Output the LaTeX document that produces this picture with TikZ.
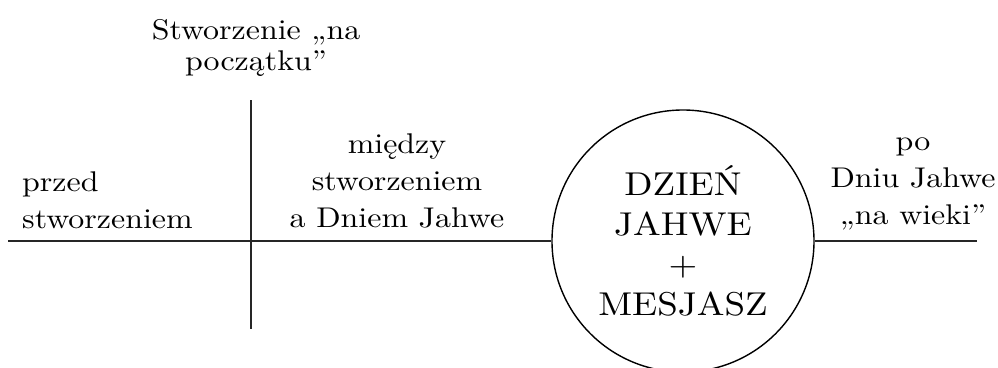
\documentclass[tikz,border=0pt]{standalone}
\usepackage{fontspec}
\setmainfont{lmroman10-regular.otf}[FakeStretch=1.12]
\usepackage{tikz}

\tikzset{
	period/.style={inner sep=0pt, font=\fontsize{28.5bp}{37bp}\selectfont},
	axis/.style={line width=1.8bp, draw=black!85},
}

\begin{document}
\begin{tikzpicture}[x=1bp, y=1bp]
			\useasboundingbox (0,0) rectangle (998,367);
			\node[period, align=left, anchor=west] at (22,167) (before){przed\\stworzeniem};
			\node[period, align=center, font=\fontsize{28.5bp}{31bp}\selectfont] at (256,319.5) (creation){Stworzenie „na\\początku”};
			\node[period, align=center] at (397,186.5) (between){między\\stworzeniem\\a Dniem Jahwe};
			\node[period, align=center] at (913,183.5) (after){po\\Dniu Jahwe\\„na wieki”};
			\node[circle, draw, line width=1.4bp, minimum size=262bp, inner sep=0pt, align=center,
				font=\fontsize{33bp}{40bp}\selectfont] at (683,126) (day){DZIEŃ\\JAHWE\\+\\MESJASZ};
			\coordinate (start) at (8,126);
			\coordinate (end) at (977,126);
			\coordinate (ctop) at (251,267);
			\coordinate (cbot) at (251,38);
			\draw[axis] (start) -- (day.west);
			\draw[axis] (day.east) -- (end);
			\draw[axis] (ctop) -- (cbot);
		\end{tikzpicture}
\end{document}
